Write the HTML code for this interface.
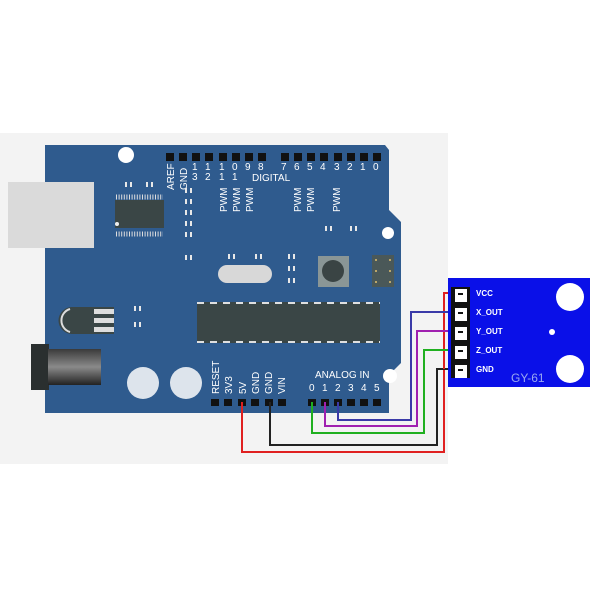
<!DOCTYPE html>
<html><head><style>
html,body{margin:0;padding:0;background:#fff;}
svg{display:block;font-family:"Liberation Sans",sans-serif;}
</style></head><body>
<svg width="600" height="600" viewBox="0 0 600 600" xmlns="http://www.w3.org/2000/svg">
<rect x="0" y="133" width="448" height="331" fill="#f3f3f3"/>
<!-- board -->
<path d="M45,145 L385,145 L389,150 L389,210 L401,222 L401,363 L389,375 L389,413 L45,413 Z" fill="#2f5b8e"/>
<!-- USB -->
<rect x="8" y="182" width="86" height="66" fill="#dadada"/>
<!-- power jack -->
<rect x="31" y="344" width="18" height="46" fill="#2a2f2f"/>
<defs><linearGradient id="jk" x1="0" y1="0" x2="0" y2="1"><stop offset="0" stop-color="#3a3a3a"/><stop offset="0.5" stop-color="#8a8a8a"/><stop offset="1" stop-color="#222"/></linearGradient></defs>
<rect x="48" y="349" width="53" height="36" fill="url(#jk)"/>
<!-- holes -->
<circle cx="126" cy="155" r="8" fill="#fff"/>
<circle cx="388" cy="233" r="6" fill="#fff"/>
<circle cx="390" cy="376" r="7" fill="#fff"/>
<!-- top header -->
<g fill="#111">
<rect x="166" y="153" width="8" height="8"/><rect x="179" y="153" width="8" height="8"/><rect x="192" y="153" width="8" height="8"/><rect x="205" y="153" width="8" height="8"/><rect x="219" y="153" width="8" height="8"/><rect x="232" y="153" width="8" height="8"/><rect x="245" y="153" width="8" height="8"/><rect x="258" y="153" width="8" height="8"/>
<rect x="281" y="153" width="8" height="8"/><rect x="294" y="153" width="8" height="8"/><rect x="307" y="153" width="8" height="8"/><rect x="320" y="153" width="8" height="8"/><rect x="334" y="153" width="8" height="8"/><rect x="347" y="153" width="8" height="8"/><rect x="360" y="153" width="8" height="8"/><rect x="373" y="153" width="8" height="8"/>
</g>
<g fill="#fff" font-size="10">
<text transform="translate(174,190) rotate(-90)">AREF</text>
<text transform="translate(187,190) rotate(-90)">GND</text>
<text x="192" y="170">1</text><text x="192" y="180">3</text>
<text x="205" y="170">1</text><text x="205" y="180">2</text>
<text x="219" y="170">1</text><text x="219" y="180">1</text>
<text x="232" y="170">0</text><text x="232" y="180">1</text>
<text x="245" y="170">9</text>
<text x="258" y="170">8</text>
<text x="252" y="181">DIGITAL</text>
<text x="281" y="170">7</text><text x="294" y="170">6</text><text x="307" y="170">5</text><text x="320" y="170">4</text><text x="334" y="170">3</text><text x="347" y="170">2</text><text x="360" y="170">1</text><text x="373" y="170">0</text>
<text transform="translate(227,212) rotate(-90)">PWM</text>
<text transform="translate(240,212) rotate(-90)">PWM</text>
<text transform="translate(253,212) rotate(-90)">PWM</text>
<text transform="translate(301,212) rotate(-90)">PWM</text>
<text transform="translate(314,212) rotate(-90)">PWM</text>
<text transform="translate(340,212) rotate(-90)">PWM</text>
</g>
<!-- small pads -->
<g fill="#e8e8e8">
<rect x="125" y="182" width="2" height="5"/><rect x="130" y="182" width="2" height="5"/>
<rect x="146" y="182" width="2" height="5"/><rect x="151" y="182" width="2" height="5"/>
<rect x="185" y="188" width="2" height="5"/><rect x="190" y="188" width="2" height="5"/>
<rect x="185" y="199" width="2" height="5"/><rect x="190" y="199" width="2" height="5"/>
<rect x="185" y="210" width="2" height="5"/><rect x="190" y="210" width="2" height="5"/>
<rect x="185" y="221" width="2" height="5"/><rect x="190" y="221" width="2" height="5"/>
<rect x="185" y="232" width="2" height="5"/><rect x="190" y="232" width="2" height="5"/>
<rect x="185" y="255" width="2" height="5"/><rect x="190" y="255" width="2" height="5"/>
<rect x="228" y="254" width="2" height="5"/><rect x="233" y="254" width="2" height="5"/>
<rect x="255" y="254" width="2" height="5"/><rect x="260" y="254" width="2" height="5"/>
<rect x="288" y="254" width="2" height="5"/><rect x="293" y="254" width="2" height="5"/>
<rect x="288" y="266" width="2" height="5"/><rect x="293" y="266" width="2" height="5"/>
<rect x="288" y="278" width="2" height="5"/><rect x="293" y="278" width="2" height="5"/>
<rect x="325" y="226" width="2" height="5"/><rect x="330" y="226" width="2" height="5"/>
<rect x="350" y="226" width="2" height="5"/><rect x="355" y="226" width="2" height="5"/>
<rect x="292" y="254" width="0" height="0"/>
<rect x="134" y="306" width="2" height="5"/><rect x="139" y="306" width="2" height="5"/>
<rect x="134" y="322" width="2" height="5"/><rect x="139" y="322" width="2" height="5"/>
</g>
<!-- SMD chip -->
<rect x="115" y="200" width="49" height="28" fill="#3a4646"/>
<g stroke="#ddd" stroke-width="1" stroke-dasharray="1,1.6">
<line x1="116" y1="197" x2="163" y2="197" stroke-width="5"/>
<line x1="116" y1="234" x2="163" y2="234" stroke-width="5"/>
</g>
<circle cx="117" cy="224" r="2" fill="#eee"/>
<!-- crystal -->
<rect x="218" y="265" width="54" height="18" rx="9" fill="#d8d8d8"/>
<!-- reset button -->
<rect x="318" y="256" width="31" height="31" fill="#8a9696"/>
<circle cx="333" cy="271" r="11" fill="#3a4444"/>
<!-- ICSP -->
<rect x="372" y="255" width="22" height="32" fill="#4a5858"/>
<g fill="#e0c070"><circle cx="376" cy="260" r="1"/><circle cx="390" cy="260" r="1"/><circle cx="376" cy="271" r="1"/><circle cx="390" cy="271" r="1"/><circle cx="376" cy="282" r="1"/><circle cx="390" cy="282" r="1"/></g>
<!-- main chip -->
<rect x="197" y="302" width="183" height="41" fill="#3a4646"/>
<line x1="197" y1="303" x2="380" y2="303" stroke="#e0e0e0" stroke-width="2" stroke-dasharray="7,6"/>
<line x1="197" y1="342" x2="380" y2="342" stroke="#e0e0e0" stroke-width="2" stroke-dasharray="7,6"/>
<!-- regulator -->
<path d="M72,307 L88,307 L88,334 L72,334 A13.5,13.5 0 0 1 72,307 Z" fill="#3a4646"/>
<path d="M70,309 A12,12 0 0 0 70,332" fill="none" stroke="#ddd" stroke-width="2"/>
<rect x="88" y="307" width="26" height="27" fill="#3a4646"/>
<g fill="#ddd"><rect x="94" y="309" width="20" height="5"/><rect x="94" y="318" width="20" height="5"/><rect x="94" y="327" width="20" height="5"/></g>
<!-- caps -->
<circle cx="143" cy="383" r="16" fill="#dde4ec"/>
<circle cx="186" cy="383" r="16" fill="#dde4ec"/>
<!-- bottom labels -->
<g fill="#fff" font-size="10">
<text transform="translate(219,394) rotate(-90)">RESET</text>
<text transform="translate(232,394) rotate(-90)">3V3</text>
<text transform="translate(246,394) rotate(-90)">5V</text>
<text transform="translate(259,394) rotate(-90)">GND</text>
<text transform="translate(272,394) rotate(-90)">GND</text>
<text transform="translate(285,394) rotate(-90)">VIN</text>
<text x="315" y="378">ANALOG IN</text>
<text x="309" y="391">0</text><text x="322" y="391">1</text><text x="335" y="391">2</text><text x="348" y="391">3</text><text x="361" y="391">4</text><text x="374" y="391">5</text>
</g>
<g fill="#111">
<rect x="211" y="399" width="8" height="7"/><rect x="224" y="399" width="8" height="7"/><rect x="238" y="399" width="8" height="7"/><rect x="251" y="399" width="8" height="7"/><rect x="265" y="399" width="8" height="7"/><rect x="278" y="399" width="8" height="7"/>
<rect x="308" y="399" width="8" height="7"/><rect x="321" y="399" width="8" height="7"/><rect x="334" y="399" width="8" height="7"/><rect x="347" y="399" width="8" height="7"/><rect x="360" y="399" width="8" height="7"/><rect x="373" y="399" width="8" height="7"/>
</g>
<!-- wires -->
<g fill="none" stroke-width="2">
<polyline points="242,402 242,452 444,452 444,293 456,293" stroke="#e02020"/>
<polyline points="270,402 270,445 437,445 437,369 456,369" stroke="#222"/>
<polyline points="312,402 312,433 424,433 424,350 456,350" stroke="#20b020"/>
<polyline points="325,402 325,426 417,426 417,331 456,331" stroke="#a020b0"/>
<polyline points="338,402 338,420 411,420 411,312 456,312" stroke="#3a3aa8"/>
</g>
<!-- sensor -->
<rect x="448" y="278" width="142" height="109" fill="#0a10e8"/>
<rect x="451" y="287" width="19" height="91" fill="#111"/>
<g fill="#fff">
<rect x="455" y="289" width="12" height="13"/><rect x="455" y="308" width="12" height="13"/><rect x="455" y="327" width="12" height="13"/><rect x="455" y="346" width="12" height="13"/><rect x="455" y="365" width="12" height="13"/>
</g>
<g fill="#111"><rect x="458" y="293" width="5" height="2"/><rect x="458" y="312" width="5" height="2"/><rect x="458" y="331" width="5" height="2"/><rect x="458" y="350" width="5" height="2"/><rect x="458" y="369" width="5" height="2"/></g>
<line x1="444" y1="293" x2="444" y2="452" stroke="#e02020" stroke-width="2" stroke-dasharray="6,4"/>
<g fill="#fff" font-size="8" font-weight="bold">
<text x="476" y="296">VCC</text><text x="476" y="315">X_OUT</text><text x="476" y="334">Y_OUT</text><text x="476" y="353">Z_OUT</text><text x="476" y="372">GND</text>
</g>
<text x="511" y="382" fill="#9aa8f0" font-size="12">GY-61</text>
<circle cx="570" cy="297" r="14" fill="#fff"/>
<circle cx="570" cy="369" r="14" fill="#fff"/>
<circle cx="552" cy="332" r="3" fill="#fff"/>
</svg>
</body></html>
